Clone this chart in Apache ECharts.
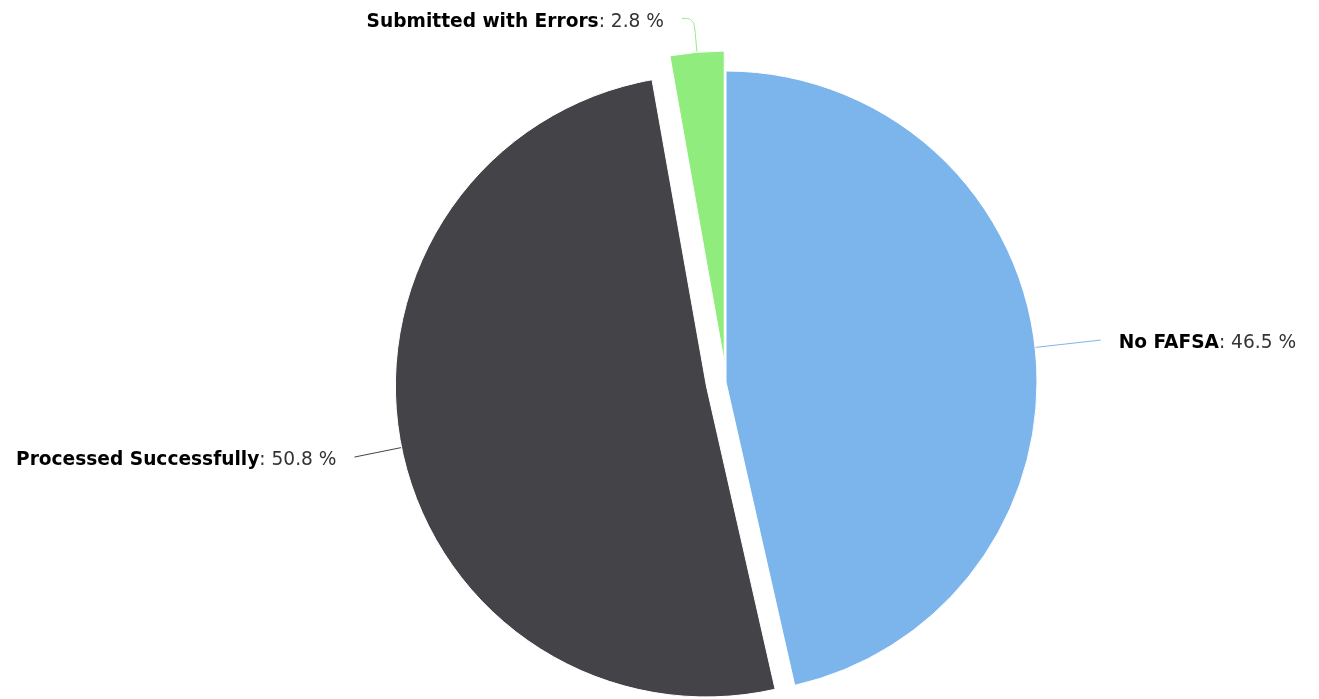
<!DOCTYPE html>
<html>
<head>
<meta charset="utf-8">
<script src="https://cdn.jsdelivr.net/npm/echarts@6/dist/echarts.min.js"></script>
<style>
html,body{margin:0;padding:0;background:#fff;}
#chart{width:1319px;height:699px;}
</style>
</head>
<body>
<div id="chart"></div>
<script>
const categories = ['No FAFSA', 'Processed Successfully', 'Submitted with Errors'];
const values = [46.5, 50.8, 2.8];
const colors = ['#7cb5ec', '#434348', '#90ed7d'];
const slicedOut = [false, true, true];
const lineLengths = [66, 48, 34];
const lineLengths2 = [0, 0, 12];

const chart = echarts.init(document.getElementById('chart'));
const data = categories.map((name, i) => ({
  name: name,
  value: values[i],
  selected: slicedOut[i],
  itemStyle: { color: colors[i] },
  labelLine: {
    length: lineLengths[i],
    length2: lineLengths2[i],
    smooth: i === 2 ? 0.4 : false,
    lineStyle: { color: colors[i], width: 1 }
  }
}));

chart.setOption({
  animation: false,
  series: [{
    type: 'pie',
    center: [726, 382],
    radius: [0, 311],
    startAngle: 90,
    clockwise: true,
    selectedMode: 'multiple',
    selectedOffset: 20,
    avoidLabelOverlap: false,
    itemStyle: { borderColor: '#ffffff', borderWidth: 1 },
    label: {
      show: true,
      position: 'outside',
      overflow: 'none',
      fontFamily: 'DejaVu Sans',
      fontSize: 18.6,
      padding: [7, 13, 0, 13],
      formatter: p => '{b|' + p.name + '}{v|: ' + p.value + ' %}',
      rich: {
        b: { fontFamily: 'DejaVu Sans', fontSize: 18.6, fontWeight: 'bold', color: '#000000' },
        v: { fontFamily: 'DejaVu Sans', fontSize: 18.6, color: '#333333' }
      }
    },
    emphasis: { disabled: true },
    data: data
  }]
});
</script>
</body>
</html>
